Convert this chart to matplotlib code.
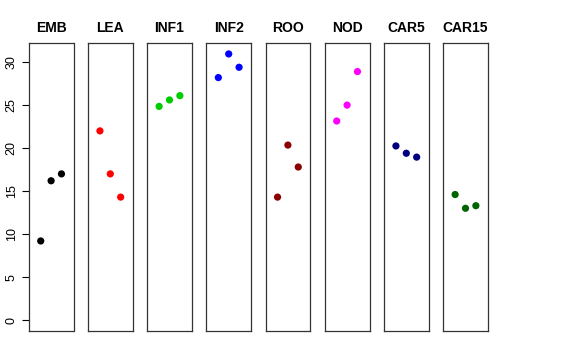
import matplotlib
matplotlib.use("Agg")
import matplotlib.pyplot as plt

plt.rcParams['font.family'] = ['Liberation Sans', 'DejaVu Sans']

tissues = ["EMB", "LEA", "INF1", "INF2", "ROO", "NOD", "CAR5", "CAR15"]
colors = ["#000000", "#FF0000", "#00CD00", "#0000FF", "#8B0000", "#FF00FF", "#000080", "#006400"]
values = [
    [9.2, 16.2, 17.0],
    [22.0, 17.0, 14.3],
    [24.85, 25.6, 26.1],
    [28.2, 30.95, 29.4],
    [14.3, 20.35, 17.8],
    [23.15, 25.0, 28.9],
    [20.25, 19.4, 18.95],
    [14.6, 13.0, 13.3],
]
yticks = [0, 5, 10, 15, 20, 25, 30]

W, H = 576, 360
fig = plt.figure(figsize=(W / 100, H / 100), dpi=100)

ymax = max(max(v) for v in values)
pad = 0.04 * ymax
left0, step, width = 28.7, 59.2, 44.8
top, bottom = 43.3, 330.7

for i, (name, col, vals) in enumerate(zip(tissues, colors, values)):
    ax = fig.add_axes([(left0 + i * step) / W, 1 - bottom / H, width / W, (bottom - top) / H])
    ax.scatter([1, 2, 3], vals, s=27, color=col, edgecolors='none', zorder=3)
    ax.set_xlim(-0.16, 4.16)
    ax.set_ylim(-pad, ymax + pad)
    ax.set_xticks([])
    ax.set_title(name, fontsize=10, fontweight='bold', pad=8)
    for sp in ax.spines.values():
        sp.set_linewidth(0.9)
        sp.set_color('#333333')
    if i == 0:
        ax.set_yticks(yticks)
        ax.tick_params(axis='y', length=5, width=0.8, labelsize=9, pad=3)
        for lab in ax.get_yticklabels():
            lab.set_rotation(90)
            lab.set_va('center')
    else:
        ax.set_yticks([])

fig.savefig("out.png", dpi=100)
